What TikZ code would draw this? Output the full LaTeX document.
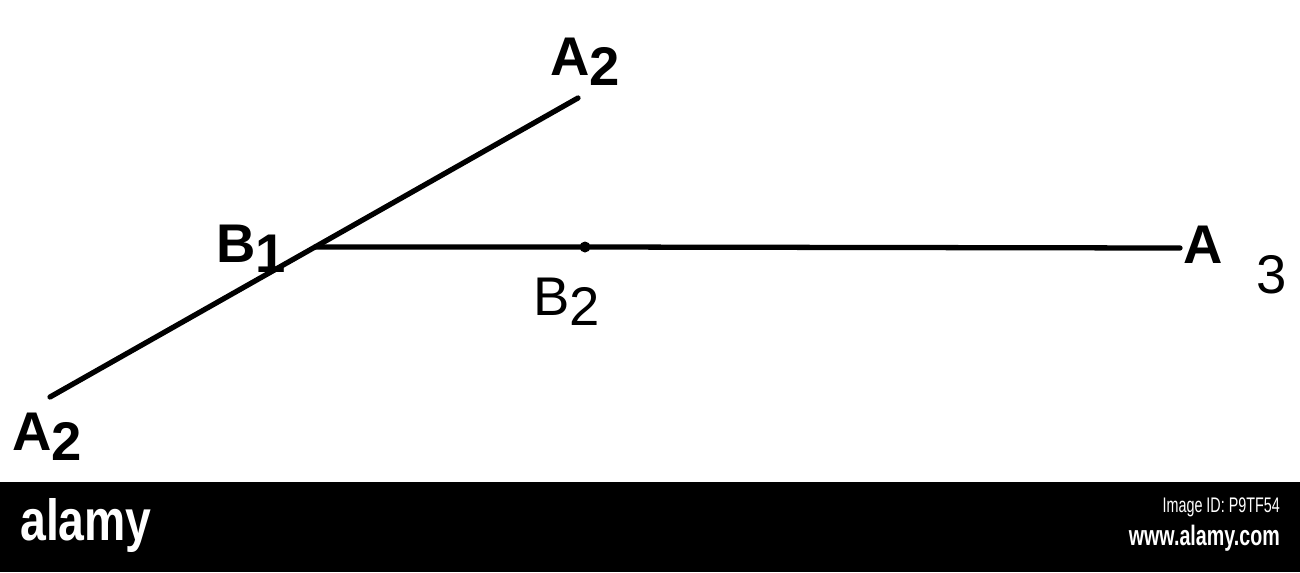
\documentclass[tikz,border=0pt]{standalone}
\usepackage{fontspec}
\setmainfont{Liberation Sans}
\usepackage{tikz}
\usetikzlibrary{calc, positioning}
\tikzset{>=latex}
\tikzset{
  ray/.style = {line width = 3pt, line cap = round},
  lbl/.style = {font = \fontsize{31}{31}\selectfont\bfseries, inner sep = 0pt},
  thinlbl/.style = {font = \fontsize{31}{31}\selectfont, inner sep = 0pt},
  wmark/.style = {text = white, inner sep = 0pt}
}
\newcommand{\sub}[1]{\raisebox{-0.35ex}{#1}}

\begin{document}
\begin{tikzpicture}[x = 0.02cm, y = -0.02cm]
\useasboundingbox (0,0) rectangle (1300,572);
\fill[white] (0,0) rectangle (1300,482);

\begin{scope}
\coordinate (b1) at (315, 247);
\coordinate (a2up) at (578, 98);
\coordinate (a2low) at (50, 397);
\coordinate (a3) at (1180, 248);
\coordinate (b2) at (585, 247);
\draw[ray] (a2low) -- (b1) -- (a2up);
\draw[ray] (b1) -- (b2) -- (a3);
\fill (b2) circle (5.5);
\node[lbl, anchor = base west] (la2up) at (550, 75) {A\sub{2}};
\node[lbl, anchor = base west] (la2low) at (12, 450) {A\sub{2}};
\node[lbl, anchor = base west] (lb1) at (216, 262) {B\sub{1}};
\node[thinlbl, anchor = base west] (lb2) at (533, 315) {B\sub{2}};
\node[lbl, anchor = base west] (la3) at (1183, 263) {A};
\node[thinlbl, anchor = base west] (la3sub) at (1256, 293) {3};
\end{scope}

\begin{scope}
\fill[black] (0,482) rectangle (1300,572);
\node[wmark, anchor = base west, xscale = 0.8, font = \fontsize{33}{33}\selectfont\bfseries] (logo) at (20, 540) {alamy};
\node[wmark, anchor = base east, xscale = 0.68, font = \fontsize{12}{12}\selectfont] (imgid) at (1280, 512) {Image ID: P9TF54};
\node[wmark, anchor = base east, xscale = 0.7, font = \fontsize{16}{16}\selectfont\bfseries] (site) at (1280, 545) {www.alamy.com};
\end{scope}

\end{tikzpicture}
\end{document}
